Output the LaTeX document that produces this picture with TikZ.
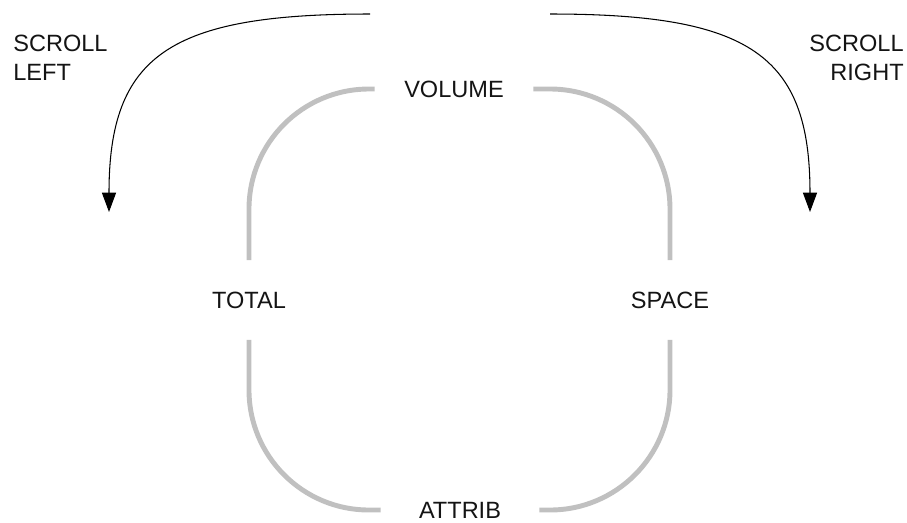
\documentclass[tikz,border=0pt]{standalone}
\usepackage{fontspec}
\setmainfont{Liberation Sans}
\usepackage{xcolor}
\usetikzlibrary{arrows.meta}

\definecolor{trackgray}{RGB}{192,192,192}
\definecolor{inkblack}{RGB}{20,20,20}

\begin{document}
\begin{tikzpicture}[x=0.02cm, y=-0.02cm]
        % Style definitions
        \tikzset{
            track/.style={draw=trackgray, line width=2.8pt, rounded corners=2.4cm},
            scrollarrow/.style={black, line width=0.6pt, -{Triangle[length=11pt, width=8pt]}},
            lbl/.style={text=inkblack, font=\fontsize{13.4}{16.5}\selectfont, inner sep=0pt}
        }
        \useasboundingbox (0,0) rectangle (907,522);

        % ==========================================
        % LABELS ON THE TRACK
        % ==========================================

        \node[lbl, minimum width=3.16cm] (volume) at (454,89) {VOLUME};
        \node[lbl, minimum width=3.16cm] (attrib) at (460,510) {ATTRIB};
        \node[lbl, minimum height=1.58cm] (total) at (249,300) {TOTAL};
        \node[lbl, minimum height=1.58cm] (space) at (670,300) {SPACE};

        \draw[track] (volume.west) -| (total.north);
        \draw[track] (total.south) |- (attrib.west);
        \draw[track] (volume.east) -| (space.north);
        \draw[track] (space.south) |- (attrib.east);

        % ==========================================
        % SCROLL ARROWS
        % ==========================================

        \node[lbl, align=left, anchor=north west] (scrollleft) at (13,35) {SCROLL\\LEFT};
        \node[lbl, align=right, anchor=north east] (scrollright) at (904,35) {SCROLL\\RIGHT};

        \coordinate (leftstart) at (370,14);
        \coordinate (lefttip) at (109,212);
        \coordinate (rightstart) at (550,14);
        \coordinate (righttip) at (810,212);

        \draw[scrollarrow] (leftstart) .. controls (170,14) and (109,55) .. (lefttip);
        \draw[scrollarrow] (rightstart) .. controls (750,14) and (810,55) .. (righttip);
    \end{tikzpicture}
\end{document}
